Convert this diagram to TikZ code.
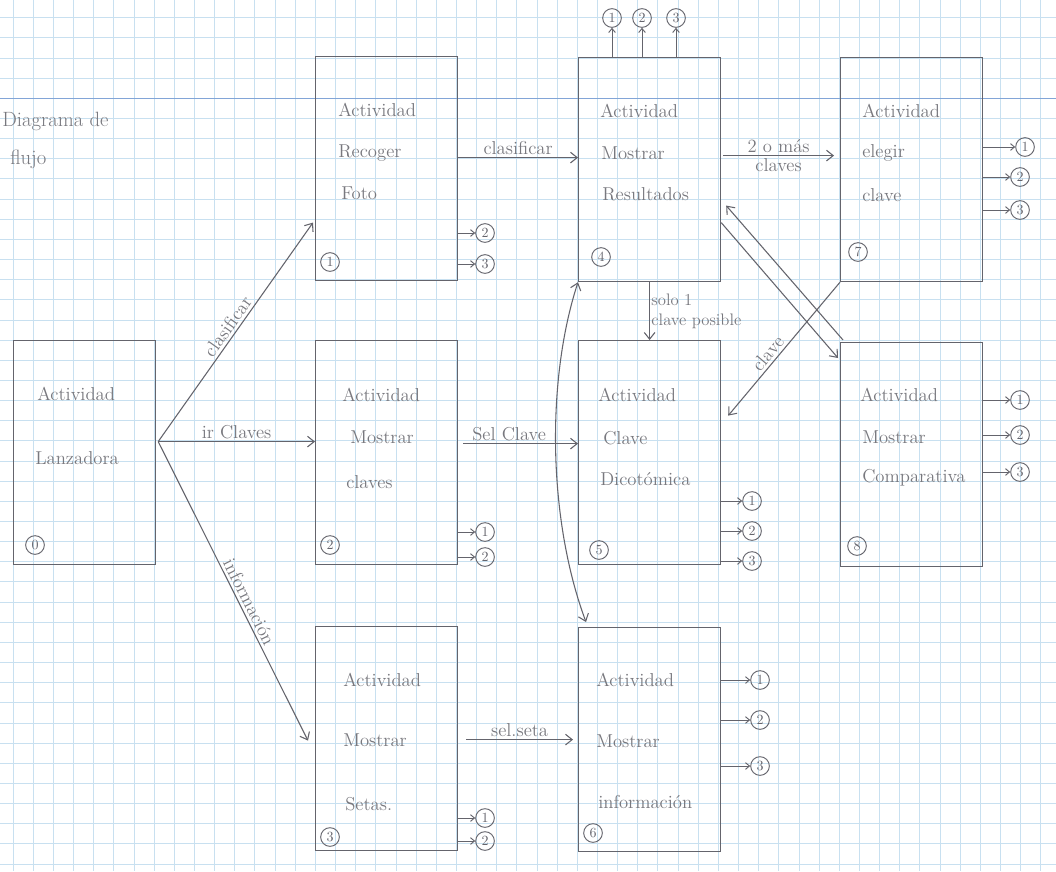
\documentclass[tikz,border=0pt]{standalone}
\usetikzlibrary{arrows.meta,calc}
\definecolor{gridc}{RGB}{200,224,240}
\definecolor{gridd}{RGB}{130,165,215}
\definecolor{pen}{RGB}{100,100,108}
\definecolor{txt}{RGB}{120,120,126}
\begin{document}
\begin{tikzpicture}[x=0.75pt,y=-0.75pt,
  box/.style={draw=pen, line width=0.9pt, inner sep=0pt, minimum width=106.5pt, minimum height=168pt, anchor=north west},
  lbl/.style={text=txt, font=\fontsize{14}{16}\selectfont, anchor=west, inner sep=0pt},
  elab/.style={text=txt, font=\fontsize{14}{16}\selectfont, inner sep=2pt},
  num/.style={circle, draw=pen, line width=0.7pt, inner sep=0pt, minimum size=14pt, text=pen, font=\fontsize{10.5}{11}\selectfont},
  arr/.style={draw=pen, line width=0.8pt, -{Straight Barb[length=5pt,width=8pt]}},
  darr/.style={draw=pen, line width=0.8pt, {Straight Barb[length=5pt,width=8pt]}-{Straight Barb[length=5pt,width=8pt]}},
  small/.style={draw=pen, line width=0.7pt, -{Straight Barb[length=3pt,width=5pt]}}
]
\useasboundingbox (0,0) rectangle (1056,871);
\fill[white] (0,0) rectangle (1056,871);
% grid paper
\foreach \i in {0,...,51} \draw[gridc, line width=0.5pt] ({13+\i*20.15},0) -- ({13+\i*20.15},871);
\foreach \j in {0,...,42} \draw[gridc, line width=0.5pt] (0,{17.6+\j*20.15}) -- (1056,{17.6+\j*20.15});
\draw[gridd, line width=0.6pt] (0,98.2) -- (1056,98.2);

% title
\node[lbl, font=\fontsize{15.5}{18}\selectfont] (t1) at (2,121) {Diagrama de};
\node[lbl, font=\fontsize{15.5}{18}\selectfont] (t2) at (10,159) {flujo};

% boxes
\node[box] (b0) at (13,340) {};
\node[box] (b1) at (315,56) {};
\node[box] (b2) at (315,340) {};
\node[box] (b3) at (315,626) {};
\node[box] (b4) at (578,57) {};
\node[box] (b5) at (578,340) {};
\node[box] (b6) at (578,627) {};
\node[box] (b7) at (840,57) {};
\node[box] (b8) at (840,342) {};

% box texts
\node[lbl] (b0a) at (37,394) {Actividad};
\node[lbl] (b0b) at (35,458) {Lanzadora};
\node[lbl] (b1a) at (338,110) {Actividad};
\node[lbl] (b1b) at (338,153) {Recoger};
\node[lbl] (b1c) at (341,193) {Foto};
\node[lbl] (b2a) at (342,395) {Actividad};
\node[lbl] (b2b) at (350,437) {Mostrar};
\node[lbl] (b2c) at (346,482) {claves};
\node[lbl] (b3a) at (343,680) {Actividad};
\node[lbl] (b3b) at (343,740) {Mostrar};
\node[lbl] (b3c) at (345,804) {Setas.};
\node[lbl] (b4a) at (600,111) {Actividad};
\node[lbl] (b4b) at (601,153) {Mostrar};
\node[lbl] (b4c) at (602,194) {Resultados};
\node[lbl] (b5a) at (598,395) {Actividad};
\node[lbl] (b5b) at (603,438) {Clave};
\node[lbl] (b5c) at (600,479) {Dicotómica};
\node[lbl] (b6a) at (596,680) {Actividad};
\node[lbl] (b6b) at (596,741) {Mostrar};
\node[lbl] (b6c) at (598,802) {información};
\node[lbl] (b7a) at (862,111) {Actividad};
\node[lbl] (b7b) at (862,153) {elegir};
\node[lbl] (b7c) at (862,195) {clave};
\node[lbl] (b8a) at (860,395) {Actividad};
\node[lbl] (b8b) at (862,437) {Mostrar};
\node[lbl] (b8c) at (862,478) {Comparativa};

% box numbers
\node[num] (n0) at (35,545) {0};
\node[num] (n1) at (330,262) {1};
\node[num] (n2) at (330,545) {2};
\node[num] (n3) at (330,837) {3};
\node[num] (n4) at (601,257) {4};
\node[num] (n5) at (599,550) {5};
\node[num] (n6) at (593,833) {6};
\node[num] (n7) at (858,252) {7};
\node[num] (n8) at (857,546) {8};

% exit references
\node[num] (b1x2) at (485,233) {2};
\node[num] (b1x3) at (485,264) {3};
\node[num] (b2x1) at (485,532) {1};
\node[num] (b2x2) at (485,557) {2};
\node[num] (b3x1) at (485,818) {1};
\node[num] (b3x2) at (485,841) {2};
\node[num] (b4y1) at (612,18) {1};
\node[num] (b4y2) at (642,18) {2};
\node[num] (b4y3) at (676,18) {3};
\node[num] (b5x1) at (752,501) {1};
\node[num] (b5x2) at (752,531) {2};
\node[num] (b5x3) at (752,561) {3};
\node[num] (b6x1) at (760,680) {1};
\node[num] (b6x2) at (760,720) {2};
\node[num] (b6x3) at (760,766) {3};
\node[num] (b7x1) at (1025,147) {1};
\node[num] (b7x2) at (1020,177) {2};
\node[num] (b7x3) at (1020,210) {3};
\node[num] (b8x1) at (1020,400) {1};
\node[num] (b8x2) at (1020,435) {2};
\node[num] (b8x3) at (1020,472) {3};

\foreach \b/\x in {b1/b1x2,b1/b1x3,b2/b2x1,b2/b2x2,b3/b3x1,b3/b3x2,b5/b5x1,b5/b5x2,b5/b5x3,b6/b6x1,b6/b6x2,b6/b6x3,b7/b7x1,b7/b7x2,b7/b7x3,b8/b8x1,b8/b8x2,b8/b8x3}
  \draw[small] (\b.east |- \x) -- (\x);
\foreach \x in {b4y1,b4y2,b4y3}
  \draw[small] (b4.north -| \x) -- (\x);

% main connectors
\coordinate (hub) at ($(b0.east)+(2,-11)$);
\draw[arr] (hub) -- ($(b1.west)+(-2,54)$) node[elab, pos=0.5, sloped, above] {clasificar};
\draw[arr] (hub) -- (b2.west |- hub) node[elab, pos=0.5, above] {ir Claves};
\draw[arr] (hub) -- ($(b3.west)+(-7,2)$) node[elab, pos=0.55, sloped, above] {información};

\coordinate (c14) at ($(b1.east)+(0,-11)$);
\draw[arr] (c14) -- (c14 -| b4.west) node[elab, midway, above] {clasificar};

\coordinate (c25) at ($(b2.east)+(5,-9)$);
\draw[arr] (c25) -- (c25 -| b5.west) node[elab, pos=0.4, above] {Sel Clave};

\coordinate (c36) at ($(b3.east)+(8,1)$);
\draw[arr] (c36) -- ($(c36 -| b6.west)+(-5,0)$) node[elab, midway, above] {sel.seta};

\coordinate (c47) at ($(b4.east)+(2,-14)$);
\draw[arr] (c47) -- ($(c47 -| b7.west)+(-6,0)$) node[elab, midway, above] {2 o más} node[elab, midway, below] {claves};

\draw[arr] (b4.south) -- (b5.north) node[elab, midway, right, align=left, inner sep=1pt, font=\fontsize{12.5}{15}\selectfont] {solo 1\\clave posible};

\draw[arr] ($(b8.north west)+(3,-2)$) -- ($(b4.east)+(5,36)$);
\draw[arr] ($(b4.east)+(0,53)$) -- ($(b8.north west)+(-2,16)$);
\draw[arr] (b7.south west) -- ($(b5.east)+(7,-37)$) node[elab, pos=0.58, sloped, above] {clave};

\draw[darr] ($(b6.north west)+(8,-5)$) .. controls (548,520) and (546,380) .. (b4.south west);
\end{tikzpicture}
\end{document}
